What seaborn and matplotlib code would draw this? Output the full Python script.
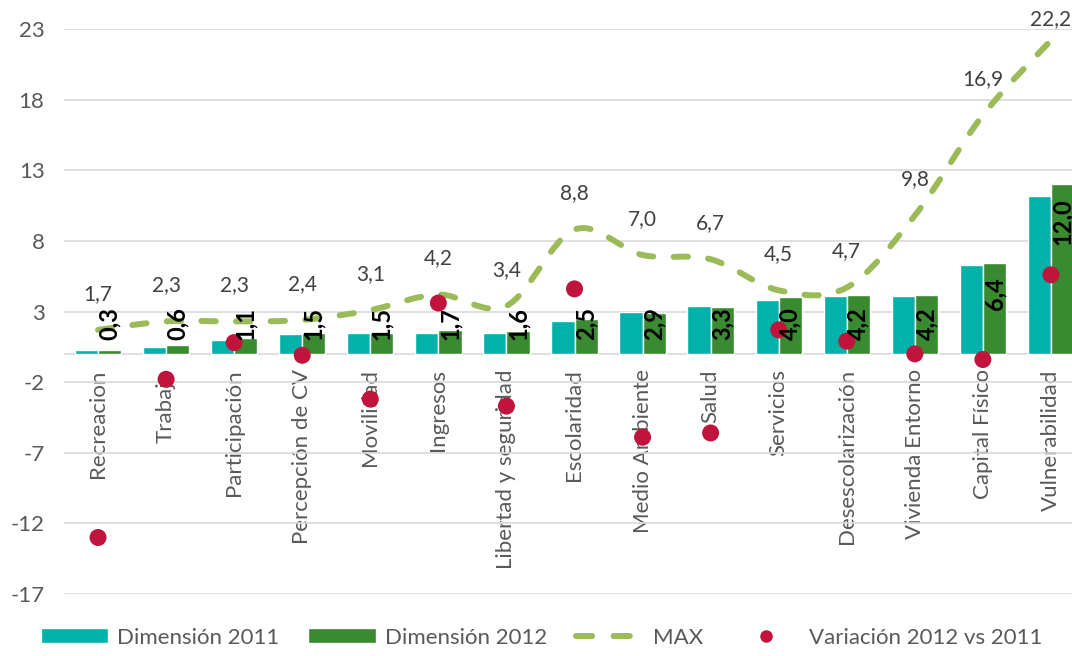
import numpy as np
import pandas as pd
import matplotlib
matplotlib.use("Agg")
import matplotlib.pyplot as plt
import seaborn as sns
from matplotlib.path import Path
from matplotlib.patches import PathPatch, Patch
from matplotlib.lines import Line2D

# ---- data ----
dimensiones = ["Recreacion", "Trabajo", "Participación", "Percepción de CV", "Movilidad",
               "Ingresos", "Libertad y seguridad", "Escolaridad", "Medio Ambiente", "Salud",
               "Servicios", "Desescolarización", "Vivienda Entorno", "Capital Físico",
               "Vulnerabilidad"]
dim_2011 = [0.3, 0.5, 1.0, 1.4, 1.5, 1.5, 1.5, 2.3, 3.0, 3.4, 3.8, 4.1, 4.1, 6.3, 11.2]
dim_2012 = [0.3, 0.6, 1.1, 1.5, 1.5, 1.7, 1.6, 2.5, 2.9, 3.3, 4.0, 4.2, 4.2, 6.4, 12.0]
max_vals = [1.7, 2.3, 2.3, 2.4, 3.1, 4.2, 3.4, 8.8, 7.0, 6.7, 4.5, 4.7, 9.8, 16.9, 22.2]
variacion = [-13.0, -1.8, 0.8, -0.1, -3.2, 3.6, -3.7, 4.6, -5.9, -5.6, 1.7, 0.9, 0.0, -0.4, 5.6]
y_ticks = [-17, -12, -7, -2, 3, 8, 13, 18, 23]

TEAL = "#00B2A9"
GREEN = "#3A8A31"
LIGHT = "#9BBB59"
RED = "#C0143C"
GREY = "#595959"

sns.set_style("white")
plt.rcParams["font.family"] = ["Lato", "DejaVu Sans"]

df = pd.DataFrame({
    "Dimensión": dimensiones * 2,
    "Valor": dim_2011 + dim_2012,
    "Serie": ["Dimensión 2011"] * len(dimensiones) + ["Dimensión 2012"] * len(dimensiones),
})

fig = plt.figure(figsize=(10.72, 6.56), dpi=100)
ax = fig.add_axes([64 / 1072, 62 / 656, 1021 / 1072, 565 / 656])

sns.barplot(data=df, x="Dimensión", y="Valor", hue="Serie", palette=[TEAL, GREEN],
            width=0.68, saturation=1, legend=False, ax=ax, zorder=2)

# ---- smoothed MAX line (Bezier through the points, like Excel's smoothed line) ----
n = len(max_vals)
pts = np.column_stack([np.arange(n), max_vals]).astype(float)
verts = [pts[0]]
codes = [Path.MOVETO]
for i in range(n - 1):
    p0 = pts[max(i - 1, 0)]
    p1 = pts[i]
    p2 = pts[i + 1]
    p3 = pts[min(i + 2, n - 1)]
    verts += [p1 + (p2 - p0) / 6, p2 - (p3 - p1) / 6, p2]
    codes += [Path.CURVE4] * 3
line = PathPatch(Path(verts, codes), fill=False, edgecolor=LIGHT, lw=4.3,
                 linestyle=(0, (2.4, 3.4)), capstyle="round", zorder=3)
ax.add_patch(line)

for i, v in enumerate(max_vals):
    ax.text(i, min(v + 2.55, 23.7), f"{v:.1f}".replace(".", ","), ha="center", va="center",
            fontsize=15, color="#404040", zorder=5, clip_on=False)

# ---- variation dots ----
sns.scatterplot(x=np.arange(n), y=variacion, color=RED, s=150, edgecolor="none",
                ax=ax, zorder=4)

# ---- 2012 bar labels (inside end, pushed up for short bars) ----
for i, v in enumerate(dim_2012):
    ax.text(i + 0.17, max(v - 1.0, 3.3), f"{v:.1f}".replace(".", ","), rotation=90,
            ha="center", va="top", fontsize=17, fontweight="bold", color="black", zorder=6)

# ---- axes styling ----
ax.set_ylim(-17, 23)
ax.set_xlim(-0.5, n - 0.5)
ax.set_yticks(y_ticks)
ax.set_yticklabels([str(t) for t in y_ticks])
ax.yaxis.grid(True, color="#D9D9D9", lw=1.2, zorder=0)
ax.set_axisbelow(True)
ax.axhline(0, color="#D9D9D9", lw=1.2, zorder=1)
for s in ax.spines.values():
    s.set_visible(False)
ax.spines["bottom"].set_position(("data", 0))
ax.tick_params(axis="x", length=0, pad=11, labelsize=16, labelcolor=GREY, labelrotation=90)
ax.tick_params(axis="y", length=0, pad=14, labelsize=16, labelcolor=GREY)
ax.set_xlabel("")
ax.set_ylabel("")

handles = [
    Patch(facecolor=TEAL, label="Dimensión 2011"),
    Patch(facecolor=GREEN, label="Dimensión 2012"),
    Line2D([], [], color=LIGHT, lw=4.3, linestyle=(0, (2.7, 3.6)),
           dash_capstyle="round", label="MAX"),
    Line2D([], [], color=RED, marker="o", markersize=8, linestyle="none",
           label="Variación 2012 vs 2011"),
]
fig.legend(handles=handles, loc="center", bbox_to_anchor=(0.505, 0.028), ncol=4,
           frameon=False, fontsize=16, labelcolor=GREY, handlelength=3.05,
           handleheight=0.65, columnspacing=1.3, handletextpad=0.4)

fig.savefig("out.png", dpi=100)
